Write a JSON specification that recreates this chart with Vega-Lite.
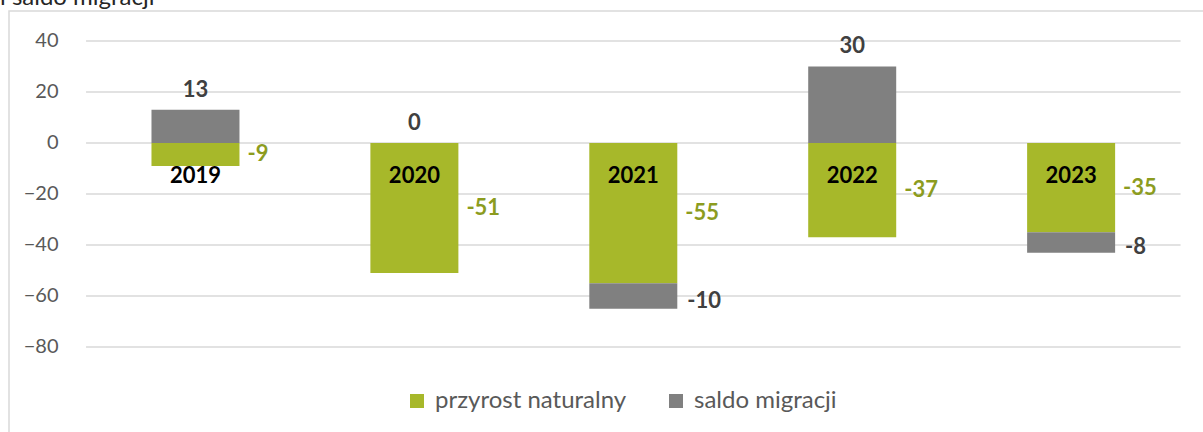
{
  "$schema": "https://vega.github.io/schema/vega-lite/v6.json",
  "autosize": {"type": "none"},
  "padding": {"left": 9, "top": 11, "right": 0, "bottom": 0},
  "width": 1200,
  "height": 429,
  "background": "white",
  "title": {"text": "i saldo migracji", "anchor": "start", "fontSize": 24, "font": "Lato", "fontWeight": "normal", "color": "#262626", "offset": 0, "dx": -9, "dy": 18, "baseline": "alphabetic"},
  "config": {"view": {"stroke": "#d9d9d9", "strokeWidth": 1.5}, "font": "Lato"},
  "datasets": {
    "dane": [
      {"rok": 2019, "kat": "przyrost naturalny", "val": -9},
      {"rok": 2019, "kat": "saldo migracji", "val": 13},
      {"rok": 2020, "kat": "przyrost naturalny", "val": -51},
      {"rok": 2020, "kat": "saldo migracji", "val": 0},
      {"rok": 2021, "kat": "przyrost naturalny", "val": -55},
      {"rok": 2021, "kat": "saldo migracji", "val": -10},
      {"rok": 2022, "kat": "przyrost naturalny", "val": -37},
      {"rok": 2022, "kat": "saldo migracji", "val": 30},
      {"rok": 2023, "kat": "przyrost naturalny", "val": -35},
      {"rok": 2023, "kat": "saldo migracji", "val": -8}
    ],
    "siatka": [{"v": 40}, {"v": 20}, {"v": 0}, {"v": -20}, {"v": -40}, {"v": -60}, {"v": -80}]
  },
  "layer": [
    {
      "data": {"name": "siatka"},
      "mark": {"type": "rule", "color": "#d9d9d9", "strokeWidth": 1.5},
      "encoding": {
        "y": {"field": "v", "type": "quantitative", "title": null,
              "scale": {"domain": [-116.47, 51.76], "nice": false, "zero": false},
              "axis": {"values": [-80, -60, -40, -20, 0, 20, 40], "grid": false, "domain": false, "ticks": false, "offset": -53, "labelPadding": 4, "labelFontSize": 20, "labelColor": "#595959", "labelFont": "Lato", "title": null}},
        "x": {"datum": 2018.5, "type": "quantitative", "scale": {"domain": [2018.171, 2023.607], "nice": false, "zero": false}, "axis": null},
        "x2": {"datum": 2023.5}
      }
    },
    {
      "data": {"name": "dane"},
      "mark": {"type": "bar", "size": 88},
      "encoding": {
        "x": {"field": "rok", "type": "quantitative", "title": null},
        "y": {"field": "val", "type": "quantitative", "stack": "zero", "title": null},
        "color": {"field": "kat", "type": "nominal",
                  "scale": {"domain": ["przyrost naturalny", "saldo migracji"], "range": ["#a7b82a", "#808080"]},
                  "legend": {"orient": "none", "legendX": 396, "legendY": 378, "direction": "horizontal", "title": null, "symbolType": "square", "symbolSize": 196, "labelFontSize": 24, "labelColor": "#595959", "labelFont": "Lato", "labelOffset": 6, "labelLimit": 400, "columnPadding": 37, "symbolStrokeWidth": 0, "padding": 0}},
        "order": {"field": "kat", "sort": "ascending"}
      }
    },
    {
      "data": {"name": "dane"},
      "transform": [{"filter": "datum.kat == 'przyrost naturalny'"}],
      "mark": {"type": "text", "fontSize": 22, "fontWeight": "bold", "color": "#000000", "align": "center", "baseline": "middle", "font": "Lato"},
      "encoding": {
        "x": {"field": "rok", "type": "quantitative", "title": null},
        "y": {"datum": -13, "type": "quantitative", "title": null},
        "text": {"field": "rok", "type": "quantitative", "format": "d"}
      }
    },
    {
      "data": {"name": "dane"},
      "transform": [
        {"stack": "val", "groupby": ["rok"], "sort": [{"field": "kat", "order": "ascending"}], "as": ["v0", "v1"]},
        {"fold": ["v0", "v1"], "as": ["krawedz", "poz"]},
        {"aggregate": [{"op": "mean", "field": "poz", "as": "srodek"}, {"op": "max", "field": "poz", "as": "gora"}], "groupby": ["rok", "kat", "val"]}
      ],
      "layer": [
        {
          "transform": [{"filter": "datum.kat == 'przyrost naturalny'"}],
          "mark": {"type": "text", "fontSize": 22, "fontWeight": "bold", "color": "#8c9c1f", "align": "left", "baseline": "middle", "dx": 52, "font": "Lato"},
          "encoding": {
            "x": {"field": "rok", "type": "quantitative", "title": null},
            "y": {"field": "srodek", "type": "quantitative", "title": null},
            "text": {"field": "val", "type": "nominal"}
          }
        },
        {
          "transform": [{"filter": "datum.kat == 'saldo migracji' && datum.val >= 0"}],
          "mark": {"type": "text", "fontSize": 22, "fontWeight": "bold", "color": "#404040", "align": "center", "baseline": "alphabetic", "dy": -13, "font": "Lato"},
          "encoding": {
            "x": {"field": "rok", "type": "quantitative", "title": null},
            "y": {"field": "gora", "type": "quantitative", "title": null},
            "text": {"field": "val", "type": "nominal"}
          }
        },
        {
          "transform": [{"filter": "datum.kat == 'saldo migracji' && datum.val < 0"}],
          "mark": {"type": "text", "fontSize": 22, "fontWeight": "bold", "color": "#404040", "align": "left", "baseline": "middle", "dx": 54, "dy": 5, "font": "Lato"},
          "encoding": {
            "x": {"field": "rok", "type": "quantitative", "title": null},
            "y": {"field": "srodek", "type": "quantitative", "title": null},
            "text": {"field": "val", "type": "nominal"}
          }
        }
      ]
    }
  ]
}
